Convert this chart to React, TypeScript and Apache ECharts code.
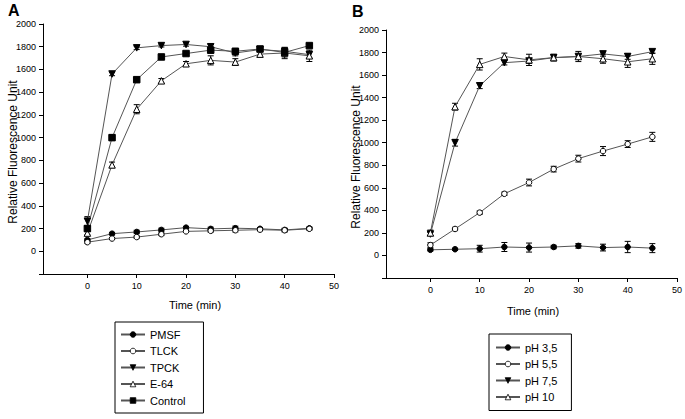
import React, { useEffect, useRef } from "react";
import * as echarts from "echarts";

const times = [0, 5, 10, 15, 20, 25, 30, 35, 40, 45];
const xTicks = [0, 10, 20, 30, 40, 50];

// Panel A: inhibitors
const pmsf = [100, 155, 170, 188, 208, 197, 203, 198, 188, 202];
const pmsfErr = [10, 12, 15, 15, 12, 15, 18, 12, 15, 12];
const tlck = [80, 112, 125, 150, 175, 180, 185, 190, 185, 198];
const tlckErr = [10, 10, 10, 12, 10, 12, 15, 12, 15, 12];
const tpck = [265, 1560, 1790, 1810, 1820, 1800, 1745, 1775, 1760, 1730];
const tpckErr = [40, 15, 15, 12, 15, 20, 25, 20, 25, 30];
const e64 = [160, 760, 1250, 1500, 1650, 1680, 1665, 1735, 1745, 1720];
const e64Err = [15, 25, 40, 20, 20, 40, 30, 25, 50, 50];
const control = [200, 1000, 1510, 1710, 1740, 1770, 1760, 1780, 1750, 1810];
const controlErr = [20, 25, 20, 15, 15, 25, 20, 20, 40, 15];

// Panel B: pH
const ph35 = [50, 55, 60, 75, 70, 75, 85, 70, 75, 65];
const ph35Err = [10, 10, 30, 40, 40, 15, 20, 30, 50, 40];
const ph55 = [92, 235, 380, 547, 647, 766, 859, 926, 988, 1052];
const ph55Err = [20, 15, 15, 15, 30, 25, 30, 40, 30, 40];
const ph75 = [190, 1000, 1505, 1710, 1725, 1755, 1765, 1788, 1765, 1808];
const ph75Err = [15, 30, 25, 20, 20, 15, 15, 20, 25, 15];
const ph10 = [200, 1320, 1695, 1765, 1735, 1755, 1765, 1745, 1718, 1745];
const ph10Err = [25, 30, 50, 30, 50, 30, 45, 40, 50, 50];

const legendA = ["PMSF", "TLCK", "TPCK", "E-64", "Control"];
const legendB = ["pH 3,5", "pH 5,5", "pH 7,5", "pH 10"];

const FONT = "Liberation Sans, Arial, sans-serif";
const LINE = "#555";

type Mk = { symbol: string; filled: boolean; rotate?: number; size: number };

function lineSeries(name: string, vals: number[], idx: number, mk: Mk) {
  return {
    name,
    type: "line",
    xAxisIndex: idx,
    yAxisIndex: idx,
    data: times.map((t, i) => [t, vals[i]]),
    symbol: mk.symbol,
    symbolSize: mk.size,
    symbolRotate: mk.rotate || 0,
    showSymbol: true,
    lineStyle: { color: LINE, width: 1 },
    itemStyle: {
      color: mk.filled ? "#000" : "#fff",
      borderColor: "#000",
      borderWidth: 1,
    },
    z: 3,
  };
}

function errSeries(vals: number[], errs: number[], idx: number) {
  return {
    type: "custom",
    xAxisIndex: idx,
    yAxisIndex: idx,
    silent: true,
    z: 2,
    encode: { x: 0, y: [1, 2] },
    data: times.map((t, i) => [t, vals[i] - errs[i], vals[i] + errs[i]]),
    renderItem: (_p: any, api: any) => {
      const lo = api.coord([api.value(0), api.value(1)]);
      const hi = api.coord([api.value(0), api.value(2)]);
      const w = 3;
      const st = { stroke: "#000", lineWidth: 1 };
      return {
        type: "group",
        children: [
          { type: "line", shape: { x1: lo[0], y1: lo[1], x2: hi[0], y2: hi[1] }, style: st },
          { type: "line", shape: { x1: lo[0] - w, y1: lo[1], x2: lo[0] + w, y2: lo[1] }, style: st },
          { type: "line", shape: { x1: hi[0] - w, y1: hi[1], x2: hi[0] + w, y2: hi[1] }, style: st },
        ],
      };
    },
  };
}

function xAxisCfg(idx: number) {
  return {
    type: "value",
    gridIndex: idx,
    min: -9,
    max: 50,
    splitLine: { show: false },
    axisLine: { onZero: false, lineStyle: { color: "#000", width: 1 } },
    axisTick: { show: true, length: 4, lineStyle: { color: "#000" }, customValues: xTicks },
    axisLabel: { color: "#000", fontSize: 9, fontFamily: FONT, margin: 7, customValues: xTicks },
  };
}

function yAxisCfg(idx: number) {
  return {
    type: "value",
    gridIndex: idx,
    min: -200,
    max: 2000,
    interval: 200,
    splitLine: { show: false },
    axisLine: { onZero: false, lineStyle: { color: "#000", width: 1 } },
    axisTick: { show: true, length: 4, lineStyle: { color: "#000" } },
    axisLabel: {
      color: "#000",
      fontSize: 9,
      fontFamily: FONT,
      margin: 7,
      formatter: (v: number) => (v < 0 ? "" : String(v)),
    },
  };
}

export default function App() {
  const ref = useRef<HTMLDivElement>(null);
  useEffect(() => {
    if (!ref.current) return;
    const chart = echarts.init(ref.current, null, { renderer: "svg" });
    const mA: Mk[] = [
      { symbol: "circle", filled: true, size: 5.5 },
      { symbol: "circle", filled: false, size: 5.5 },
      { symbol: "triangle", filled: true, rotate: 180, size: 6.5 },
      { symbol: "triangle", filled: false, size: 6.5 },
      { symbol: "rect", filled: true, size: 6.5 },
    ];
    const mB: Mk[] = [
      { symbol: "circle", filled: true, size: 5.5 },
      { symbol: "circle", filled: false, size: 5.5 },
      { symbol: "triangle", filled: true, rotate: 180, size: 6.5 },
      { symbol: "triangle", filled: false, size: 6.5 },
    ];
    const valsA = [pmsf, tlck, tpck, e64, control];
    const errsA = [pmsfErr, tlckErr, tpckErr, e64Err, controlErr];
    const valsB = [ph35, ph55, ph75, ph10];
    const errsB = [ph35Err, ph55Err, ph75Err, ph10Err];

    const series: any[] = [];
    valsA.forEach((v, i) => series.push(errSeries(v, errsA[i], 0)));
    valsB.forEach((v, i) => series.push(errSeries(v, errsB[i], 1)));
    valsA.forEach((v, i) => series.push(lineSeries(legendA[i], v, 0, mA[i])));
    valsB.forEach((v, i) => series.push(lineSeries(legendB[i], v, 1, mB[i])));

    const legendCommon = {
      orient: "vertical",
      borderColor: "#000",
      borderWidth: 1,
      itemWidth: 24,
      itemHeight: 7,
      itemGap: 5.5,
      itemStyle: { borderWidth: 0.8 },
      textStyle: { color: "#000", fontSize: 11, fontFamily: FONT },
      inactiveColor: "#000",
      selectedMode: false,
    };

    chart.setOption({
      animation: false,
      backgroundColor: "#fff",
      grid: [
        { left: 43, top: 24, width: 291, height: 250 },
        { left: 386, top: 30, width: 292, height: 248 },
      ],
      xAxis: [xAxisCfg(0), xAxisCfg(1)],
      yAxis: [yAxisCfg(0), yAxisCfg(1)],
      legend: [
        { ...legendCommon, data: legendA, left: 115, top: 322, padding: [7, 18, 7, 5] },
        { ...legendCommon, data: legendB, left: 489, top: 334, padding: [8, 14, 8, 6] },
      ],
      graphic: [
        { type: "text", left: 8, top: 2, style: { text: "A", font: `bold 16px ${FONT}`, fill: "#000" } },
        { type: "text", left: 352, top: 3, style: { text: "B", font: `bold 16px ${FONT}`, fill: "#000" } },
        {
          type: "text", x: 13, y: 152, rotation: Math.PI / 2,
          style: { text: "Relative Fluorescence Unit", font: `12px ${FONT}`, fill: "#000", align: "center", verticalAlign: "middle" },
        },
        {
          type: "text", x: 356, y: 157, rotation: Math.PI / 2,
          style: { text: "Relative Fluorescence Unit", font: `12px ${FONT}`, fill: "#000", align: "center", verticalAlign: "middle" },
        },
        {
          type: "text", x: 195, y: 305,
          style: { text: "Time (min)", font: `11px ${FONT}`, fill: "#000", align: "center", verticalAlign: "middle" },
        },
        {
          type: "text", x: 533, y: 311,
          style: { text: "Time (min)", font: `11px ${FONT}`, fill: "#000", align: "center", verticalAlign: "middle" },
        },
      ],
      series,
    });
    return () => chart.dispose();
  }, []);
  return (
    <div
      ref={ref}
      style={{ position: "fixed", left: 0, top: 0, width: 685, height: 419, background: "#fff" }}
    />
  );
}
